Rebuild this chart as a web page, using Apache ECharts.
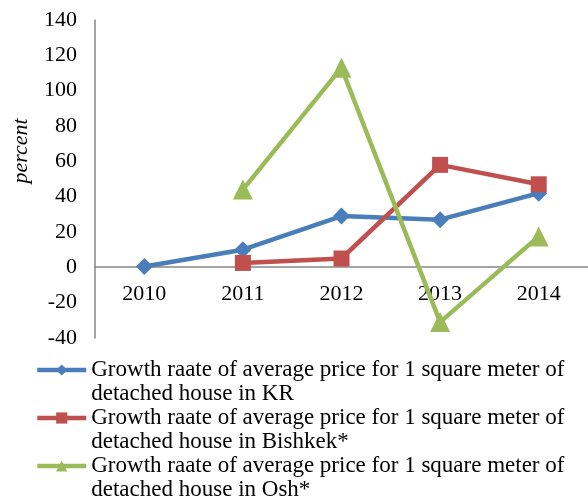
<!DOCTYPE html>
<html><head><meta charset="utf-8">
<script src="https://cdn.jsdelivr.net/npm/echarts@6/dist/echarts.min.js"></script>
<style>html,body{margin:0;padding:0;background:#fff}#c{width:588px;height:499px}</style>
</head><body><div id="c"></div>
<script>
const years = ['2010','2011','2012','2013','2014'];
const kr = [0.5, 10, 29, 27, 42];
const bishkek = [null, 2.5, 5, 58, 47];
const osh = [null, 44, 113, -31, 17.5];
const seriesNames = [
  'Growth raate of average price for 1 square meter of\ndetached house in KR',
  'Growth raate of average price for 1 square meter of\ndetached house in Bishkek*',
  'Growth raate of average price for 1 square meter of\ndetached house in Osh*'
];
const yTicks = {min: -40, max: 140, interval: 20};
const font = '"Liberation Serif", "Times New Roman", serif';
const chart = echarts.init(document.getElementById('c'));
function mk(name, data, color, symbol, size) {
  return {
    name, type: 'line', data, symbol, symbolSize: size,
    connectNulls: false,
    lineStyle: {color, width: 4.5},
    itemStyle: {color},
    emphasis: {disabled: true},
    animation: false
  };
}
chart.setOption({
  animation: false,
  grid: {left: 95, right: -7, top: 20, bottom: 161},
  xAxis: {
    type: 'category', data: years, boundaryGap: true,
    offset: -71,
    axisLine: {onZero: false, lineStyle: {color: '#868686', width: 1.5}},
    axisTick: {show: false},
    axisLabel: {color: '#000', fontFamily: font, fontSize: 22, margin: 16}
  },
  yAxis: {
    type: 'value', min: yTicks.min, max: yTicks.max, interval: yTicks.interval,
    axisLine: {show: true, lineStyle: {color: '#868686', width: 1.5}},
    axisTick: {show: false},
    splitLine: {show: false},
    axisLabel: {color: '#000', fontFamily: font, fontSize: 22, margin: 18}
  },
  graphic: [{
    type: 'text', x: 21, y: 151, rotation: Math.PI/2,
    style: {text: 'percent', fontFamily: font, fontStyle: 'italic', fontSize: 22, fill: '#000', align: 'center', verticalAlign: 'middle'}
  }],
  legend: {
    orient: 'vertical', left: 35, top: 334, height: 400,
    itemWidth: 49, itemHeight: 14, itemGap: -24, padding: 0,
    formatter: name => '\n' + name,
    lineStyle: {width: 4.5},
    textStyle: {fontFamily: font, fontSize: 23, color: '#000', lineHeight: 24},
    data: seriesNames
  },
  series: [
    mk(seriesNames[0], kr, '#4A7EBB', 'diamond', 17),
    mk(seriesNames[1], bishkek, '#C0504D', 'rect', 16),
    mk(seriesNames[2], osh, '#9BBB59', 'triangle', 20)
  ]
});
</script></body></html>
